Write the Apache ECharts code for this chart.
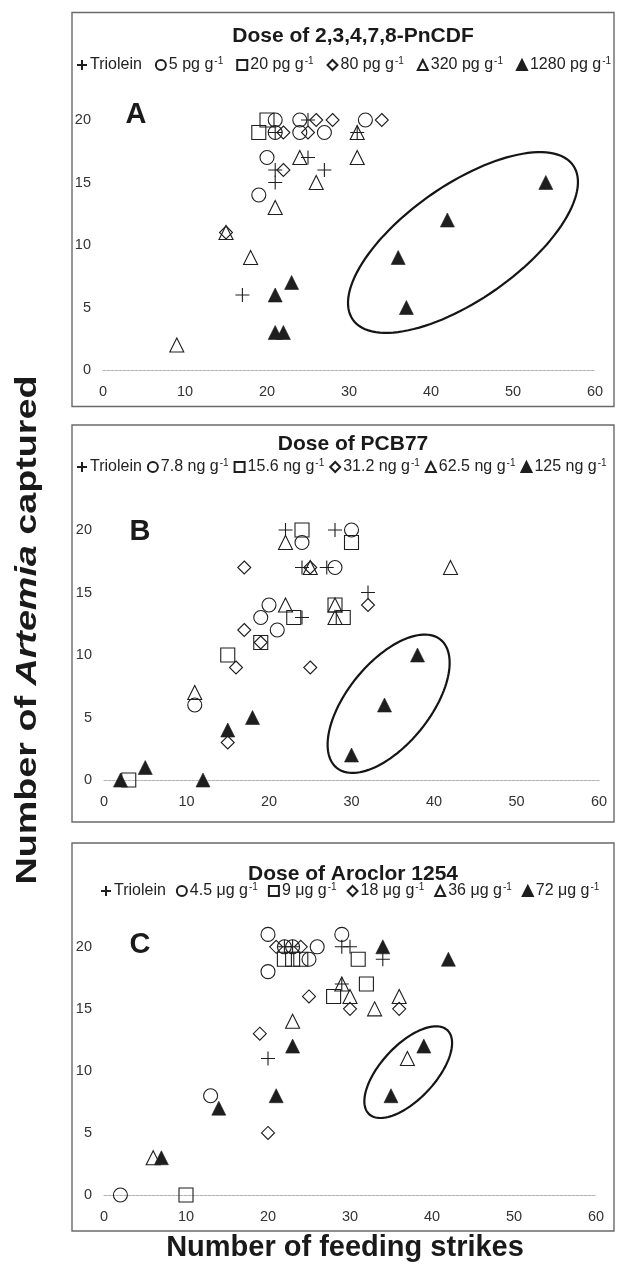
<!DOCTYPE html>
<html>
<head>
<meta charset="utf-8">
<script src="https://cdn.jsdelivr.net/npm/echarts@6/dist/echarts.min.js"></script>
<style>
html,body{margin:0;padding:0;background:#fff}
#chart{width:626px;height:1281px}
</style>
</head>
<body>
<div id="chart"></div>
<script>
// ---- Panel A: dose of 2,3,4,7,8-PnCDF  [feeding strikes, Artemia captured]
const aTriolein = [[25,20],[21,19],[31,19],[25,17],[21,16],[27,16],[21,15],[17,6]];
const aDose1 = [[21,20],[24,20],[32,20],[21,19],[24,19],[27,19],[20,17],[19,14]];
const aDose2 = [[20,20],[19,19]];
const aDose3 = [[26,20],[28,20],[34,20],[22,19],[25,19],[22,16],[15,11]];
const aDose4 = [[31,19],[24,17],[31,17],[26,15],[21,13],[15,11],[18,9],[9,2]];
const aDose5 = [[54,15],[42,12],[36,9],[37,5],[21,6],[23,7],[21,3],[22,3]];
const aNames = ['Triolein','5 pg g-1','20 pg g-1','80 pg g-1','320 pg g-1','1280 pg g-1'];
// ellipse: [centre x, centre y, semi-major, semi-minor (x-axis units), tilt in degrees]
const aEllipse = [[43.9,10.2,16.4,7.0,35]];

// ---- Panel B: dose of PCB77
const bTriolein = [[22,20],[28,20],[24,17],[27,17],[24,13],[32,15]];
const bDose1 = [[24,19],[30,20],[28,17],[20,14],[19,13],[21,12],[11,6]];
const bDose2 = [[24,20],[30,19],[23,13],[19,11],[28,14],[29,13],[15,10],[3,0]];
const bDose3 = [[17,17],[25,17],[17,12],[19,11],[32,14],[16,9],[25,9],[15,3]];
const bDose4 = [[22,19],[25,17],[22,14],[28,14],[28,13],[42,17],[11,7]];
const bDose5 = [[15,4],[18,5],[5,1],[2,0],[12,0],[30,2],[34,6],[38,10]];
const bNames = ['Triolein ','7.8 ng g-1','15.6 ng g-1','31.2 ng g-1','62.5 ng g-1','125 ng g-1'];
const bEllipse = [[34.5,6.1,10.0,5.0,51]];

// ---- Panel C: dose of Aroclor 1254
const cTriolein = [[22,20],[23,20],[29,20],[30,20],[34,19],[29,17],[20,11]];
const cDose1 = [[20,21],[29,21],[22,20],[23,20],[26,20],[25,19],[20,18],[13,8],[2,0]];
const cDose2 = [[22,19],[23,19],[24,19],[31,19],[32,17],[28,16],[10,0]];
const cDose3 = [[21,20],[24,20],[25,16],[30,15],[36,15],[19,13],[20,5]];
const cDose4 = [[29,17],[30,16],[33,15],[36,16],[23,14],[37,11],[6,3]];
const cDose5 = [[34,20],[42,19],[23,12],[39,12],[35,8],[21,8],[14,7],[7,3]];
const cNames = ['Triolein  ','4.5 μg g-1','9 μg g-1','18 μg g-1','36 μg g-1','72 μg g-1'];
const cEllipse = [[37.1,9.9,7.0,3.3,47]];

const xTicks = [0,10,20,30,40,50,60];
const yTicks = [0,5,10,15,20];

const FONT = '"Liberation Sans", Arial, Helvetica, sans-serif';
const INK = '#1e1e1e';
const CROSS = 'path://M5,0L5,10M0,5L10,5';
const SYMBOLS = [CROSS, 'circle', 'rect', 'diamond', 'triangle', 'triangle'];
const SIZES = [14, 14, 14, 13, 14, 14];

const panels = [
  { title: 'Dose of 2,3,4,7,8-PnCDF', letter: 'A', names: aNames,
    sets: [aTriolein, aDose1, aDose2, aDose3, aDose4, aDose5], ellipse: aEllipse,
    grid: { left: 103, top: 95, width: 492, height: 275 },
    titleTop: 21, letterPos: [131, 95], legend: { left: 76, top: 56, gap: 13 }, frame: [72, 12.5, 542, 394] },
  { title: 'Dose of PCB77', letter: 'B', names: bNames,
    sets: [bTriolein, bDose1, bDose2, bDose3, bDose4, bDose5], ellipse: bEllipse,
    grid: { left: 104, top: 505, width: 495, height: 275 },
    titleTop: 429, letterPos: [135, 512], legend: { left: 76, top: 458, gap: 5 }, frame: [72, 425, 542, 397] },
  { title: 'Dose of Aroclor 1254', letter: 'C', names: cNames,
    sets: [cTriolein, cDose1, cDose2, cDose3, cDose4, cDose5], ellipse: cEllipse,
    grid: { left: 104, top: 922, width: 492, height: 273 },
    titleTop: 859, letterPos: [135, 925], legend: { left: 100, top: 882, gap: 10 }, frame: [72, 843, 542, 388] }
];

const option = {
  animation: false,
  backgroundColor: '#fff',
  textStyle: { fontFamily: FONT },
  title: [],
  legend: [],
  grid: [],
  xAxis: [],
  yAxis: [],
  series: [],
  graphic: []
};

function supFormatter(name) {
  const n = name.trim();
  if (n.endsWith(' g-1')) return '{t|' + n.slice(0, -2) + '}{s|-1}';
  return '{t|' + n + '}';
}

panels.forEach((p, i) => {
  option.grid.push(Object.assign({ containLabel: false, outerBoundsMode: 'none' }, p.grid));
  option.xAxis.push({
    type: 'value', gridIndex: i, min: xTicks[0], max: xTicks[xTicks.length - 1], interval: xTicks[1] - xTicks[0],
    axisLine: { show: true, onZero: false, lineStyle: { color: '#b5b5b5', width: 1, type: [3, 1] } },
    axisTick: { show: false }, splitLine: { show: false },
    axisLabel: { color: '#333', fontSize: 14.5, margin: 14, fontFamily: FONT }
  });
  option.yAxis.push({
    type: 'value', gridIndex: i, min: yTicks[0], max: 22, interval: yTicks[1] - yTicks[0],
    axisLine: { show: false }, axisTick: { show: false }, splitLine: { show: false },
    axisLabel: { color: '#333', fontSize: 14.5, margin: 12, fontFamily: FONT,
      formatter: v => (yTicks.indexOf(v) >= 0 ? String(v) : '') }
  });
  option.title.push({ text: p.title, left: 348, top: p.titleTop, textAlign: 'center',
    textStyle: { fontSize: 21, fontWeight: 'bold', color: '#1a1a1a', fontFamily: FONT } });
  option.title.push({ text: p.letter, left: p.letterPos[0], top: p.letterPos[1], textAlign: 'center',
    textStyle: { fontSize: 29, fontWeight: 'bold', color: '#1a1a1a', fontFamily: FONT } });
  option.legend.push({
    left: p.legend.left, top: p.legend.top, orient: 'horizontal', itemGap: p.legend.gap,
    itemWidth: 10, itemHeight: 10, selectedMode: false, padding: 0,
    data: p.names,
    formatter: supFormatter,
    textStyle: { color: '#222', fontFamily: FONT, padding: [0, 0, 0, -2],
      rich: { t: { fontSize: 16, lineHeight: 18, color: '#222', fontFamily: FONT },
              s: { fontSize: 10, lineHeight: 18, verticalAlign: 'top', color: '#222', fontFamily: FONT, padding: [0, 0, 6, 1] } } }
  });
  p.sets.forEach((set, k) => {
    const filled = k === 5;
    option.series.push({
      type: 'scatter', name: p.names[k], xAxisIndex: i, yAxisIndex: i,
      data: set, symbol: SYMBOLS[k], symbolSize: SIZES[k], clip: false, z: filled ? 3 : 2,
      itemStyle: filled
        ? { color: INK, borderColor: INK, borderWidth: 0.6, opacity: 1 }
        : { color: 'rgba(255,255,255,0)', borderColor: INK, borderWidth: 1.1, opacity: 1 },
      emphasis: { disabled: true }
    });
  });
  option.series.push({
    type: 'custom', xAxisIndex: i, yAxisIndex: i, data: p.ellipse, clip: false, z: 4, silent: true,
    encode: { x: 0, y: 1 },
    renderItem: (params, api) => {
      const c = api.coord([api.value(0), api.value(1)]);
      const unit = api.size([1, 0])[0];
      const a = api.value(2) * unit, b = api.value(3) * unit;
      const t = api.value(4) * Math.PI / 180;
      const pts = [];
      for (let s = 0; s < 120; s++) {
        const ang = s / 120 * Math.PI * 2;
        const ex = a * Math.cos(ang), ey = b * Math.sin(ang);
        pts.push([c[0] + ex * Math.cos(t) - ey * Math.sin(t), c[1] - (ex * Math.sin(t) + ey * Math.cos(t))]);
      }
      return { type: 'polygon', shape: { points: pts }, style: { fill: null, stroke: '#151515', lineWidth: 2.2 } };
    }
  });
  option.graphic.push({ type: 'rect', silent: true, z: 0,
    shape: { x: p.frame[0], y: p.frame[1], width: p.frame[2], height: p.frame[3] },
    style: { fill: null, stroke: '#6a6a6a', lineWidth: 1.4 } });
});

// axis titles shared by the three panels (the vertical one is drawn stretched along its length)
option.graphic.push({
  type: 'text', silent: true, x: 28, y: 630, rotation: Math.PI / 2, scaleX: 1.3,
  style: { text: 'Number of {i|Artemia} captured', textAlign: 'center', textVerticalAlign: 'middle',
    fontSize: 29, fontWeight: 'bold', fontFamily: FONT, fill: '#1a1a1a',
    rich: { i: { fontSize: 29, fontWeight: 'bold', fontStyle: 'italic', fontFamily: FONT, fill: '#1a1a1a' } } }
});
option.graphic.push({
  type: 'text', silent: true, x: 345, y: 1248,
  style: { text: 'Number of feeding strikes', textAlign: 'center', textVerticalAlign: 'middle',
    fontSize: 29, fontWeight: 'bold', fontFamily: FONT, fill: '#1a1a1a' }
});

const chart = echarts.init(document.getElementById('chart'), null, { renderer: 'canvas' });
chart.setOption(option);
</script>
</body>
</html>
